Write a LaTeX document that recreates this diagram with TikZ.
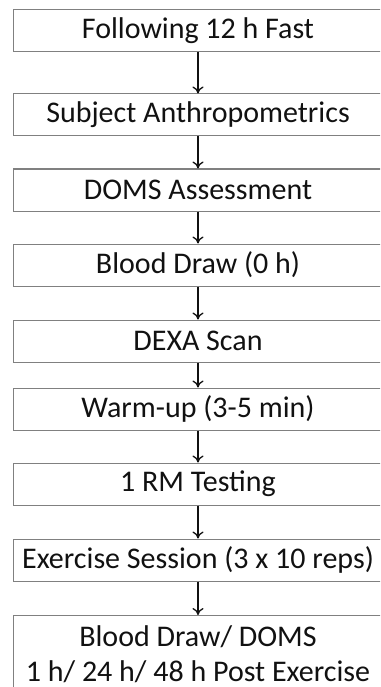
\documentclass[tikz,border=0pt]{standalone}
\usepackage{fontspec}
\setmainfont{Carlito}
\usepackage{tikz}
\usetikzlibrary{arrows.meta}
\definecolor{edge}{HTML}{808080}
\definecolor{ink}{HTML}{111111}

\begin{document}
\begin{tikzpicture}[x=1pt,y=-1pt,
  box/.style={draw=edge,line width=1pt,minimum width=370pt,minimum height=42pt,
    inner sep=0pt,font=\fontsize{30}{35}\selectfont,text=ink},
  arr/.style={-{To[length=7pt,width=11pt]},line width=1.3pt,ink}]
  \clip (0,0) rectangle (380,687);
  \useasboundingbox (0,0) rectangle (380,687);
  \foreach \nm/\y/\txt in {b1/31/Following 12 h Fast,b2/115/Subject Anthropometrics,
      b3/190/DOMS Assessment,b4/265/Blood Draw (0 h),b5/341/DEXA Scan,
      b6/409/Warm-up (3-5 min),b7/484/1 RM Testing,b8/560/Exercise Session (3 x 10 reps)}
    \node[box] (\nm) at (198,\y) {\txt};
  \node[box,anchor=north,align=center,minimum height=78pt] (b9) at (198,615)
    {Blood Draw/ DOMS\\1 h/ 24 h/ 48 h Post Exercise};
  \foreach \a/\b in {b1/b2,b2/b3,b3/b4,b4/b5,b5/b6,b6/b7,b7/b8}
    \draw[arr] (\a.south) -- (\b.north);
  \draw[arr] (b8.south) -- (b9.north);
\end{tikzpicture}
\end{document}
